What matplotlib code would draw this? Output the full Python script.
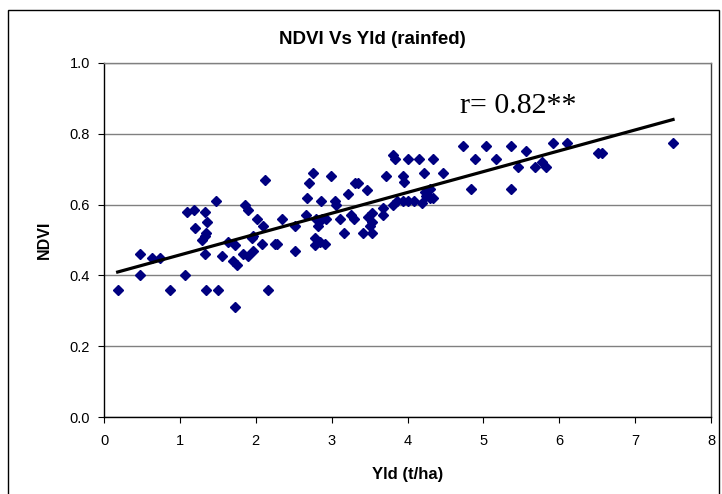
import numpy as np
import matplotlib
matplotlib.use('Agg')
import matplotlib.pyplot as plt
from matplotlib.patches import Rectangle

# yield (t/ha) and NDVI
yld = [0.18, 0.48, 0.48, 0.63, 0.74, 0.87,
       1.07, 1.09, 1.18, 1.33, 1.48, 1.20, 1.36, 1.35, 1.33, 1.29, 1.33, 1.34,
       1.50, 1.56, 1.63, 1.70, 1.75, 1.72, 1.73, 1.86, 1.90, 1.83, 1.90, 1.96,
       1.95, 1.97,
       2.01, 2.08, 2.10, 2.12, 2.16, 2.25, 2.28, 2.34, 2.52, 2.52, 2.66, 2.67,
       2.70, 2.75, 2.78, 2.80, 2.85, 2.82, 2.86, 2.87, 2.91, 2.78, 2.93, 2.99,
       3.04, 3.06, 3.11, 3.16, 3.21, 3.31, 3.35, 3.46, 3.26, 3.29, 3.42, 3.53,
       3.48, 3.53, 3.53, 3.50, 3.68, 3.68, 3.72, 3.81, 3.83, 3.81, 3.86, 3.94,
       3.96, 3.94,
       4.00, 4.01, 4.08, 4.15, 4.19, 4.22, 4.23, 4.25, 4.30, 4.30, 4.34, 4.34,
       4.47, 4.73, 4.84, 4.89,
       5.03, 5.16, 5.36, 5.36, 5.45, 5.56, 5.68, 5.77, 5.82, 5.92, 6.10, 6.51,
       6.56, 7.50]
ndvi = [0.36, 0.46, 0.40, 0.45, 0.45, 0.36,
        0.40, 0.58, 0.585, 0.58, 0.61, 0.535, 0.55, 0.52, 0.51, 0.50, 0.46, 0.36,
        0.36, 0.455, 0.495, 0.44, 0.43, 0.31, 0.485, 0.60, 0.585, 0.46, 0.455, 0.47,
        0.505, 0.51,
        0.56, 0.49, 0.54, 0.67, 0.36, 0.49, 0.49, 0.56, 0.54, 0.47, 0.57, 0.62,
        0.66, 0.69, 0.505, 0.56, 0.495, 0.54, 0.61, 0.56, 0.49, 0.485, 0.56, 0.68,
        0.61, 0.60, 0.56, 0.52, 0.63, 0.66, 0.66, 0.64, 0.57, 0.56, 0.52, 0.52,
        0.565, 0.575, 0.55, 0.54, 0.57, 0.59, 0.68, 0.74, 0.73, 0.60, 0.61, 0.68,
        0.665, 0.61,
        0.73, 0.61, 0.61, 0.73, 0.605, 0.69, 0.635, 0.625, 0.645, 0.62, 0.62, 0.73,
        0.69, 0.765, 0.645, 0.73,
        0.765, 0.73, 0.765, 0.645, 0.705, 0.75, 0.705, 0.72, 0.705, 0.775, 0.775, 0.745,
        0.745, 0.775]

x_ticks = [0, 1, 2, 3, 4, 5, 6, 7, 8]
y_ticks = [0.0, 0.2, 0.4, 0.6, 0.8, 1.0]
r_label = 'r= 0.82**'

yld = np.array(yld)
ndvi = np.array(ndvi)

plt.rcParams['font.family'] = ['Liberation Sans', 'DejaVu Sans']

W, H = 722, 494
fig = plt.figure(figsize=(W / 100, H / 100), dpi=100)
fig.patch.set_facecolor('white')

# outer chart border (open at the bottom like the cropped original)
fig.patches.append(Rectangle((8 / W, -0.05), (719 - 8) / W, 1.05 - 10 / H,
                             transform=fig.transFigure, fill=False,
                             edgecolor='black', lw=1.0, clip_on=False))

ax = fig.add_axes([104 / W, 1 - 417 / H, (711 - 104) / W, (417 - 63) / H])
ax.set_xlim(0, 8)
ax.set_ylim(0, 1.0)

ax.set_yticks(y_ticks)
ax.set_yticklabels(['%.1f' % v for v in y_ticks])
ax.set_xticks(x_ticks)
ax.grid(axis='y', color='#808080', lw=1.0)
ax.set_axisbelow(True)
for s in ax.spines.values():
    s.set_color('black')
    s.set_linewidth(1.0)
ax.spines['top'].set_color('#808080')
ax.spines['right'].set_color('#404040')
ax.tick_params(direction='out', length=4, width=0.8, labelsize=10.5)
ax.tick_params(axis='x', pad=8)
ax.tick_params(axis='y', pad=6)

ax.plot(yld, ndvi, ls='none', marker='D', ms=5.2, color='#000080', mec='#000080', zorder=3)

# linear trend line
k, b = np.polyfit(yld, ndvi, 1)
xs = np.array([yld.min(), yld.max()])
ax.plot(xs, k * xs + b, color='black', lw=2.3, zorder=4)

ax.text(4.69, 0.86, r_label, family=['Liberation Serif', 'DejaVu Serif'], fontsize=21.5)

fig.text(372 / W, 1 - 40 / H, 'NDVI Vs Yld (rainfed)', ha='center', va='center',
         fontsize=13.5, fontweight='bold')
ax.set_xlabel('Yld (t/ha)', fontsize=12, fontweight='bold', labelpad=14)
ax.set_ylabel('NDVI', fontsize=11.5, fontweight='bold', labelpad=13)

fig.savefig('out.png', dpi=100)
